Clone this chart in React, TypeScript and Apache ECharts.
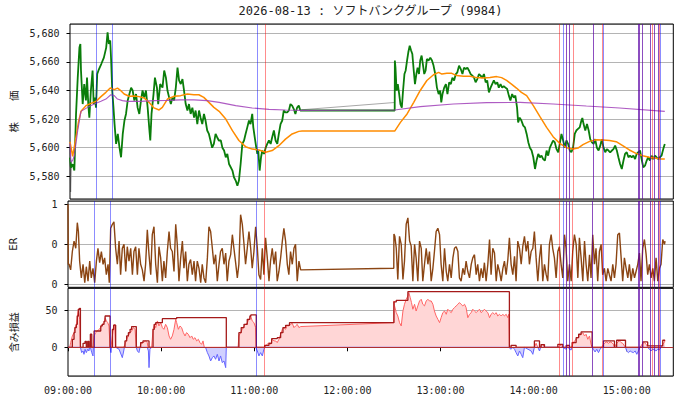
import React, { useEffect, useRef } from 'react';
import * as echarts from 'echarts';

const TITLE = '2026-08-13 : ソフトバンクグループ (9984)';
const xTickStep = 60;

// minutes since 09:00, price
const priceAM = [[0,5593],[0.6,5586],[1.7,5588.5],[2.8,5584],[3.2,5598],[3.9,5623.5],[5.0,5649],[6.1,5670],[6.7,5672.5],[7.1,5654],[8.2,5630.5],[9.2,5644.5],[10.3,5633],[11.0,5649],[11.8,5630.5],[12.5,5621],[13.5,5640],[14.6,5654],[15.3,5630.5],[16.1,5635],[16.8,5628],[17.6,5651.5],[18.4,5654],[20.2,5658.5],[21.9,5663],[23.4,5670],[24.3,5680.7],[25.1,5672.5],[26.0,5675],[26.6,5661],[27.3,5640],[28.1,5628],[28.8,5616.5],[29.8,5602.6],[30.9,5609.6],[32.0,5600],[33.0,5593.3],[34.1,5609.6],[35.2,5619],[36.2,5623.6],[37.3,5633],[38.4,5637.5],[39.5,5642],[40.5,5640],[41.6,5633],[42.7,5637.5],[43.7,5628],[44.8,5623.6],[45.9,5633],[46.9,5640],[48.0,5635],[49.1,5640],[50.2,5628],[51.2,5614],[51.9,5605],[52.7,5623.6],[54.0,5637.5],[54.9,5649],[56.2,5642],[57.0,5630.5],[58.3,5644.5],[59.8,5642],[60.9,5654],[62.0,5649],[63.0,5640],[64.1,5635],[65.2,5630.5],[66.2,5635],[67.3,5633],[68.4,5642],[69.5,5656],[70.5,5647],[71.6,5644.5],[72.7,5648],[73.7,5640],[74.8,5630.5],[75.9,5626],[76.9,5630.5],[78.0,5623.6],[79.1,5628],[80.2,5621],[81.2,5626],[82.3,5616.5],[83.4,5626],[84.4,5621],[85.5,5616.5],[86.6,5623.6],[87.6,5619],[88.7,5612],[89.8,5609.6],[90.8,5605],[91.9,5600],[93.0,5602.6],[94.1,5609.6],[95.1,5607.3],[96.2,5605],[97.5,5605],[98.5,5600],[99.6,5598],[100.7,5593.3],[101.7,5595.6],[102.8,5588.6],[103.9,5586.3],[105.0,5584],[106.0,5579.3],[107.1,5577],[108.2,5573.4],[109.2,5577],[110.3,5588.6],[111.4,5602.6],[112.5,5605],[113.5,5609.6],[114.6,5614.2],[115.7,5619],[116.7,5616.5],[117.8,5623.6],[118.5,5614.2],[119.4,5607.3],[120.4,5600],[121.1,5595.6],[121.7,5598],[122.6,5584],[123.5,5593.3],[124.3,5598],[125.4,5595.6],[126.5,5600],[127.5,5602.6],[128.6,5605],[129.7,5602.6],[130.7,5607.3],[131.8,5612],[132.9,5605],[134.0,5602.6],[135.0,5609.6],[136.1,5616.5],[137.2,5619],[138.2,5626],[139.3,5624.7],[140.4,5624.7],[141.5,5626],[142.5,5630.5],[143.6,5629.4],[144.7,5627],[145.7,5623.6],[146.8,5628],[147.9,5629.4],[148.9,5626],[149.6,5626]];
const priceLunch = [[209.9,5626]];
const pricePM = [[210,5660.9],[210.4,5656],[211.1,5640],[211.9,5644.5],[212.8,5637.5],[213.6,5630.5],[214.5,5628],[215.3,5640],[216.2,5651.5],[217.0,5654],[217.9,5661],[218.7,5666.7],[219.6,5671.3],[220.5,5668],[221.3,5665.5],[222.2,5654],[223.0,5644.5],[223.9,5651.5],[224.7,5656],[225.6,5651.5],[226.4,5661],[227.3,5664.4],[228.1,5658.5],[229.0,5651.5],[229.9,5654],[230.7,5662],[231.8,5661],[232.9,5663],[234.0,5661],[235.0,5657.4],[236.1,5651.5],[237.2,5642],[238.3,5637.5],[239.3,5640],[240.0,5631.7],[240.8,5637.5],[241.9,5642],[243.0,5644.5],[244.0,5637.5],[245.1,5645.7],[246.2,5644.5],[247.2,5649],[248.3,5647],[249.4,5651.5],[250.4,5652.7],[251.5,5657.4],[252.6,5655],[253.7,5651.5],[254.7,5656],[255.8,5655],[256.9,5656],[257.9,5654],[259.0,5651.5],[260.1,5650.4],[261.2,5649],[262.2,5645.7],[263.3,5648],[264.4,5651.5],[265.4,5650.4],[266.5,5649],[267.6,5651.5],[268.7,5645.7],[269.7,5647],[270.8,5638.7],[271.9,5642],[272.9,5644.5],[274.0,5647],[275.1,5644.5],[276.2,5645.7],[277.2,5642],[278.3,5644.5],[279.4,5642],[280.4,5643],[281.5,5642],[282.6,5641],[283.7,5636.4],[284.7,5633],[285.8,5637.5],[286.9,5635],[287.9,5636.4],[289.0,5628],[289.7,5617.7],[290.7,5621],[291.8,5619],[293.0,5615.4],[294.1,5614.2],[295.2,5609.6],[296.3,5603.7],[297.3,5600],[298.4,5598],[299.5,5593.3],[300.6,5585.1],[301.6,5591],[302.7,5595.6],[303.8,5593.3],[304.8,5594.4],[305.9,5592],[307.0,5591],[308.1,5598],[309.1,5594.4],[310.2,5600],[311.3,5602.6],[312.3,5605],[313.4,5603.7],[314.5,5599],[315.6,5596.8],[316.6,5602.6],[317.7,5609.6],[318.8,5605],[319.8,5600],[320.9,5605],[322.0,5602.6],[323.1,5598],[324.1,5596.8],[325.2,5600],[326.3,5609.6],[327.3,5612],[328.4,5613.1],[329.5,5614.2],[330.6,5619],[331.2,5620.8],[332.0,5616.5],[333.1,5612],[334.2,5616.5],[335.3,5612],[336.3,5606],[337.4,5603.7],[338.5,5602.6],[339.5,5606],[340.6,5600],[341.7,5598],[342.8,5601.4],[343.8,5606],[344.9,5600],[346.0,5596.8],[347.0,5599],[348.1,5598],[349.2,5596.8],[350.3,5598],[351.3,5599],[352.4,5601.4],[353.5,5598],[354.5,5593.3],[355.6,5588.6],[356.7,5585.1],[357.8,5591],[358.8,5595.6],[359.9,5596.8],[361.0,5593.3],[362.0,5594.4],[363.1,5593.3],[364.2,5594.4],[365.3,5592],[366.3,5595.6],[367.4,5596.8],[368.5,5598],[369.5,5592],[370.6,5586.3],[371.7,5587.4],[372.8,5591],[373.8,5593.3],[374.9,5591],[376.0,5594.4],[377.0,5592],[378.1,5594.4],[379.2,5593.3],[380.3,5592],[381.3,5593.3],[382.4,5594.4],[383.5,5599],[384.5,5602.6]];
const rawOpen = [[0,5600],[0.4,5569],[0.9,5590]];
const rawLunch = [[149.6,5626.5],[209.9,5631.6]];
const maLine = [[0,5604],[1.7,5594],[3.5,5605],[5.5,5618],[7.1,5625.4],[10.3,5629.4],[13.5,5631],[16.8,5632.4],[20,5635.7],[23.2,5638.7],[26,5641.7],[28.6,5640.6],[30.7,5641.7],[32.4,5640.3],[35,5637.5],[38.2,5636],[41.5,5636.2],[44.7,5635.7],[47.9,5634.8],[51.1,5631.7],[54.3,5627.8],[57.6,5626.4],[59.7,5628.2],[63,5634],[67.2,5635.9],[71.5,5636.4],[75.8,5637.5],[80.1,5637],[83.3,5637],[86.5,5635.2],[89.8,5631.7],[93,5628.2],[96.4,5625.4],[100.7,5620],[105,5611.9],[109.2,5605],[113.5,5600.7],[117.8,5599],[122.1,5598.4],[126.5,5596.8],[130.7,5598],[135,5601.4],[139.3,5606],[143.6,5609.6],[147.9,5611.4],[150,5611.6],[209.9,5611.6],[213.6,5617.7],[217.9,5623.6],[222.2,5631.7],[226.4,5640],[230.7,5647],[235,5651],[238.3,5652.7],[240.4,5651.5],[243.6,5652],[246.8,5652],[250,5650.4],[254.3,5649.9],[258.6,5649.9],[262.9,5649],[267.2,5648.7],[271.5,5649],[275.8,5649.7],[279,5649],[282.2,5647],[285.4,5644.5],[288.6,5641.7],[291.8,5638.7],[295.2,5636.4],[299.5,5629.4],[303.8,5621.7],[308.1,5614.2],[312.3,5607.7],[316.6,5603],[320.9,5600],[325.2,5599],[328.4,5599.7],[331.6,5602.1],[335.9,5604.4],[340.2,5605.6],[344.5,5605.4],[348.8,5605],[353.1,5604.2],[357.3,5601.4],[361.6,5598.4],[365.9,5596],[370.2,5594.4],[374.5,5593.3],[378.8,5592.6],[382,5592],[384.5,5592]];
const vwapLine = [[0,5603],[0.6,5590],[1.7,5591],[2.8,5594.4],[5,5612],[7.1,5625.4],[11.4,5628.2],[15.7,5630.5],[20,5632.4],[23.2,5634],[26.4,5637],[28.6,5636.4],[30.7,5634],[33.9,5632.9],[37.1,5632.4],[45.7,5632.4],[54.3,5632.9],[63,5633.1],[71.5,5633.4],[80.1,5633.4],[88.7,5632.9],[96.4,5631.7],[107.1,5629.4],[117.8,5627.8],[128.6,5626.8],[139.3,5626.4],[150,5626.1],[209.9,5626.3],[226.4,5628.7],[247.9,5630.5],[269.3,5631.5],[290.9,5631.7],[312.3,5630.5],[333.8,5629.1],[355.2,5627.8],[384.5,5625.4]];

const erAM = [[0,1.0],[0.2,0.25],[0.7,0.25],[1.7,0.18],[2.8,0.41],[3.9,0.54],[5.0,0.45],[6.0,0.77],[6.7,0.66],[7.5,0.29],[8.6,0.08],[9.7,0.25],[10.8,0.02],[11.8,0.22],[12.9,0.04],[14.0,0.29],[15.0,0.08],[16.1,0.2],[17.2,0.02],[18.3,0.29],[19.3,0.45],[20.4,0.27],[21.5,0.41],[22.6,0.25],[23.6,0.33],[24.7,0.12],[25.8,0.25],[26.6,0.02],[27.5,0.7],[28.6,0.75],[29.6,0.78],[30.7,0.45],[31.8,0.25],[32.9,0.54],[33.9,0.12],[35.0,0.45],[36.1,0.5],[37.2,0.16],[38.2,0.47],[39.3,0.29],[40.4,0.45],[41.5,0.12],[42.5,0.41],[43.6,0.47],[44.7,0.12],[45.7,0.45],[46.8,0.25],[47.9,0.18],[49.0,0.04],[50.0,0.25],[51.1,0.68],[52.2,0.37],[53.3,0.12],[54.3,0.62],[55.4,0.72],[56.5,0.25],[57.6,0.02],[58.6,0.47],[59.7,0.33],[60.8,0.04],[61.8,0.29],[62.9,0.08],[64.0,0.41],[65.1,0.66],[66.1,0.45],[67.2,0.41],[68.3,0.16],[69.4,0.75],[70.4,0.5],[71.5,0.04],[72.6,0.33],[73.7,0.54],[74.7,0.2],[75.8,0.41],[76.9,0.04],[77.9,0.25],[79.0,0.31],[80.1,0.12],[81.2,0.29],[82.2,0.04],[83.3,0.29],[84.4,0.2],[85.5,0.02],[86.5,0.25],[87.6,0.08],[88.7,0.02],[89.8,0.33],[90.8,0.72],[91.9,0.66],[93.0,0.45],[94.0,0.25],[95.1,0.37],[96.2,0.04],[97.3,0.25],[98.3,0.41],[99.4,0.45],[100.5,0.25],[101.6,0.39],[102.6,0.04],[103.7,0.29],[104.8,0.37],[105.9,0.62],[106.9,0.45],[108.0,0.27],[109.1,0.08],[110.1,0.25],[111.2,0.87],[112.3,0.75],[113.4,0.5],[114.4,0.25],[115.5,0.45],[116.6,0.66],[117.7,0.45],[118.7,0.2],[119.8,0.41],[120.9,0.72],[122.0,0.45],[123.0,0.12],[124.1,0.06],[125.2,0.45],[126.2,0.12],[127.3,0.58],[128.4,0.33],[129.5,0.04],[130.5,0.29],[131.6,0.45],[132.7,0.25],[133.8,0.41],[134.8,0.04],[135.9,0.16],[137.0,0.33],[138.1,0.54],[139.1,0.7],[140.2,0.54],[141.3,0.25],[142.3,0.12],[143.4,0.41],[144.5,0.25],[145.6,0.45],[146.6,0.5],[147.7,0.04],[148.8,0.29],[149.9,0.18]];
const erPM = [[209.9,0.2],[210,0.63],[210.6,0.6],[211.5,0.45],[212.5,0.06],[213.6,0.6],[214.7,0.5],[215.8,0.06],[216.8,0.29],[217.9,0.75],[219,0.83],[220.1,0.54],[221.1,0.48],[222.2,0.04],[223.3,0.5],[224.3,0.33],[225.4,0.04],[226.5,0.54],[227.6,0.45],[228.6,0.04],[229.7,0.25],[230.8,0.45],[231.9,0.25],[232.9,0.41],[234,0.04],[235.1,0.2],[236.1,0.41],[237.2,0.66],[238.3,0.7],[239.4,0.62],[240.4,0.25],[241.5,0.04],[242.6,0.45],[243.7,0.16],[244.7,0.04],[245.8,0.25],[246.9,0.08],[248,0.33],[249,0.45],[250.1,0.47],[251.2,0.41],[252.2,0.08],[253.3,0.04],[254.4,0.2],[255.5,0.12],[256.5,0.29],[257.6,0.16],[258.7,0.08],[259.8,0.25],[260.8,0.33],[261.9,0.37],[263,0.12],[264,0.25],[265.1,0.04],[266.2,0.2],[267.3,0.08],[268.3,0.27],[269.4,0.04],[270.5,0.25],[271.6,0.56],[272.6,0.12],[273.7,0.45],[274.8,0.39],[275.9,0.04],[276.9,0.25],[278,0.16],[279.1,0.04],[280.2,0.2],[281.2,0.29],[282.3,0.12],[283.4,0.31],[284.4,0.58],[285.5,0.25],[286.6,0.12],[287.7,0.35],[288.7,0.04],[289.8,0.54],[290.9,0.45],[292,0.25],[293,0.47],[294.1,0.6],[295.2,0.41],[296.3,0.54],[297.3,0.25],[298.4,0.41],[299.5,0.45],[300.5,0.66],[301.6,0.33],[302.7,0.04],[303.8,0.33],[304.8,0.5],[305.9,0.04],[307,0.25],[308.1,0.12],[309.1,0.04],[310.2,0.5],[311.3,0.62],[312.3,0.45],[313.4,0.33],[314.5,0.08],[315.6,0.41],[316.6,0.47],[317.7,0.25],[318.8,0.08],[319.9,0.62],[320.9,0.45],[322,0.04],[323.1,0.25],[324.2,0.04],[325.2,0.41],[326.3,0.62],[327.4,0.5],[328.5,0.08],[329.5,0.58],[330.6,0.33],[331.7,0.04],[332.8,0.54],[333.8,0.25],[334.9,0.04],[336,0.37],[337,0.08],[338.1,0.62],[339.2,0.25],[340.2,0.45],[341.3,0.04],[342.4,0.41],[343.5,0.5],[344.5,0.12],[345.6,0.2],[346.7,0.04],[347.8,0.2],[348.8,0.12],[349.9,0.04],[351,0.25],[352.1,0.08],[353.1,0.25],[354.2,0.62],[355.3,0.64],[356.4,0.33],[357.4,0.04],[358.5,0.33],[359.6,0.2],[360.7,0.08],[361.7,0.25],[362.8,0.04],[363.9,0.2],[365,0.08],[366,0.16],[367.1,0.25],[368.2,0.39],[369.2,0.04],[370.3,0.45],[371.4,0.56],[372.5,0.37],[373.5,0.12],[374.6,0.25],[375.7,0.08],[376.8,0.2],[377.8,0.04],[378.9,0.33],[380,0.04],[381.1,0.2],[382.1,0.25],[383.2,0.56],[384.3,0.5],[384.7,0.54]];

const pnlAM = [[0,0],[1.1,0],[1.7,6.3],[2.8,15.3],[3.9,19.8],[4.5,26.6],[5.4,31],[6.0,42.3],[6.7,51.4],[7.5,37.8],[8.0,0],[8.8,-7.2],[9.7,-5],[10.3,-9.5],[11.0,-2.7],[11.8,-7.2],[12.7,-2.7],[13.5,-5],[14.4,6.3],[15.3,-7.2],[16.1,-11.7],[16.8,15.3],[17.8,19.8],[18.9,22],[20.0,24.3],[21.1,26.6],[22.1,31],[23.2,33.3],[23.9,40],[24.7,35.6],[25.6,33.3],[26.4,28.8],[27.1,0],[27.7,-7.2],[28.6,15.3],[29.4,28.8],[30.1,31],[30.7,0],[32.9,-2.7],[35.0,-14],[35.9,-5],[36.7,4],[37.8,10.8],[38.9,15.3],[40.0,19.8],[41.0,22],[42.1,26.6],[43.2,24.3],[44.0,0],[44.7,-5],[45.7,-7.2],[46.8,4],[48.3,6.3],[50.0,8.6],[51.1,6.3],[51.8,-5],[52.2,-27.5],[52.8,-2.7],[53.9,0],[54.8,24.3],[55.6,31],[56.5,26.6],[57.6,35.6],[58.6,28.8],[59.7,33.3],[60.8,26.6],[61.8,24.3],[62.9,31],[64.0,26.6],[65.1,15.3],[66.1,10.8],[67.2,15.3],[68.3,24.3],[69.4,37.8],[70.0,33.3],[71.1,24.3],[72.2,28.8],[73.2,26.6],[74.3,19.8],[75.4,15.3],[76.4,19.8],[77.5,17.6],[78.6,13],[79.7,15.3],[80.7,10.8],[81.8,13],[82.9,8.6],[84.0,10.8],[85.0,6.3],[86.1,4],[87.0,8.6],[87.8,0],[88.7,-0.5],[89.8,-7.2],[90.8,-11.7],[91.9,-18.5],[93.0,-14],[94.0,-11.7],[95.1,-16.2],[96.2,-9.5],[97.3,-18.5],[98.3,-11.7],[99.4,-20.7],[100.5,-18.5],[101.6,-27.5],[102.0,0],[109.6,0],[110.1,15.3],[111.2,19.8],[112.3,24.3],[113.4,28.8],[114.4,31],[115.5,33.3],[116.6,37.8],[117.7,42.3],[118.7,35.6],[119.8,33.3],[120.9,26.6],[121.3,0],[122.0,-5],[123.0,-11.7],[124.1,-7.2],[125.2,-11.7],[126.2,-2.7],[127.3,1.8],[128.4,4],[129.5,6.3],[130.5,4],[131.6,10.8],[132.7,8.6],[133.8,8.6],[134.8,6.3],[135.9,10.8],[137.0,17.6],[138.1,24.3],[139.1,26.6],[140.2,24.3],[141.3,29.7],[142.3,28.8],[143.4,31],[144.5,32.4],[145.6,26.6],[146.6,28.8],[147.7,31],[148.8,26.6],[149.9,28],[209.9,33.3]];
const pnlPM = [[210,62.6],[210.4,55.9],[211.5,46.8],[212.5,42.3],[213.6,33.3],[214.7,28.8],[215.8,49],[216.8,58.1],[217.9,64.9],[219,69.4],[219.6,73.9],[220.5,67.1],[221.3,60.4],[222.2,51.4],[223.3,58.1],[224.3,49],[225.4,55.9],[226.5,62.6],[227.6,64.9],[228.6,58.1],[229.7,55.9],[230.8,62.6],[231.9,64.9],[232.9,62.6],[234,62.6],[235.1,58.1],[236.1,49],[237.2,42.3],[238.3,37.8],[239.4,33.3],[240.4,40],[241.5,46.8],[242.6,49],[243.7,44.6],[244.7,51.4],[245.8,49],[246.9,46.8],[248,51.4],[249,53.6],[250.1,55.9],[251.2,58.1],[252.2,60.4],[253.3,58.1],[254.4,55.9],[255.5,58.1],[256.5,53.6],[257.6,40],[258.7,44.6],[259.8,46.8],[260.8,51.4],[261.9,49],[263,46.8],[264,49],[265.1,51.4],[266.2,46.8],[267.3,49],[268.3,51.4],[269.4,49],[270.5,46.8],[271.6,40],[272.6,44.6],[273.7,46.8],[274.8,44.6],[275.9,46.8],[276.9,42.3],[278,44.6],[279.1,42.3],[280.2,44.6],[281.2,42.3],[282.3,44.6],[283.4,40],[284,44.6],[284.4,0],[285.5,-2.7],[286.6,0],[287.7,-2.7],[288.7,-7.2],[289.8,-11.7],[290.9,-5],[292,-9.5],[293,-14],[294.1,0],[298.4,-5],[299.5,-9.5],[300.5,0],[301.6,5.4],[302.7,0],[303.8,-5],[304.8,1.8],[305.9,4],[307,0],[315.6,0],[316.7,1.8],[317.7,2.7],[318.8,0],[321,-2.7],[322,1.8],[323.1,-2.7],[324.2,-3.6],[325.2,4],[326.3,8.6],[327.4,10.8],[328.5,13],[329.5,15.3],[330.6,17.6],[331.7,19.8],[332.8,15.3],[333.8,17.6],[334.9,10.8],[336,15.3],[337,4],[337.7,0],[338.5,-2.7],[339.6,-6.3],[340.7,-2.7],[341.8,-7.2],[342.8,-2.7],[343.9,0],[345,4],[346.1,6.3],[347.1,7.2],[348.2,5.4],[349.3,7.2],[350.4,6.3],[351.4,4],[352.1,0],[353.1,4],[354.2,7.2],[355.3,8.6],[356.4,6.3],[357.4,5.4],[358.5,1.8],[359.2,0],[360,-5],[361.1,-7.2],[362.2,-5],[363.2,-6.3],[364.3,-7.2],[365.4,-5],[366.5,-9.5],[367.5,-5],[368.6,0],[369.2,1.8],[370.3,5.4],[371.4,6.3],[372.5,4],[373.5,0],[374.6,-2.7],[375.7,-5],[376.7,-2.7],[377.8,-3.6],[378.9,-5],[380,-2.7],[381,-3.6],[382.1,0],[383.2,4],[384.3,7.2],[384.7,9.5]];
const pnlPeak = [[0,0],[2.8,10.8],[3.9,19.8],[4.5,26.6],[5.4,31],[6.0,42.3],[6.7,51.4],[7.5,52.7],[8.0,0],[9.7,5.4],[11.0,8],[11.8,0],[12.7,8],[13.5,0],[14.4,17.6],[15.3,0],[16.8,22],[21.1,28.8],[22.1,31],[23.2,35],[23.9,42.3],[27.1,0],[28.6,24],[29.4,30],[30.7,0],[36.7,8.6],[37.8,15.3],[38.9,19.8],[40.0,24.3],[41.0,28],[44.0,0],[46.8,6.3],[48.3,8.6],[52.2,0],[54.8,24.3],[55.6,31],[56.5,33.3],[60.8,38.7],[70.0,40.1],[102.0,0],[110.1,19.8],[111.6,26.6],[113.4,31],[115.5,37.8],[117.2,42.3],[117.8,43.7],[121.3,0],[126.7,2.7],[129.5,5.4],[131.2,11.7],[134.8,13],[137.0,19.8],[138.5,26.6],[140.2,29.7],[142.7,33.3],[210,61.3],[211.5,63.5],[219.0,75.2],[284.4,0],[285.5,2.7],[288.7,0],[300.5,8.6],[303.8,0],[304.8,3.6],[307,0],[315.6,4],[318.8,0],[321,2.7],[323.1,0],[324.8,6.3],[327.4,13],[329,17.6],[330.6,20.7],[337.7,0],[345,8.6],[352.1,0],[353.5,9.5],[359.2,0],[370.3,7.2],[373.5,1.8],[383.2,9.5],[384.7,9.5]];

const buyTimes = [16.8, 27.0, 121.1, 318.8, 320.9, 322.7, 338.1, 344.7, 367.1, 367.8, 369.7, 375.0, 377.8, 380.1, 381.7];
const sellTimes = [126.2, 316.2, 320.9, 322.7, 325.2, 338.1, 344.2, 367.1, 367.8, 369.7, 375.0, 376.2, 377.8, 380.1, 381.0];

const MONO = "'DejaVu Sans Mono', 'Noto Sans CJK JP', monospace";
const CJK = "'Noto Sans CJK JP', 'DejaVu Sans', sans-serif";
const pad = (n: number) => (n < 10 ? '0' + n : '' + n);
const fmtTime = (v: number) => `${pad(9 + Math.floor(v / 60))}:${pad(Math.round(v % 60))}:00`;
const fmtComma = (v: number) => String(Math.round(v)).replace(/\B(?=(\d{3})+(?!\d))/g, ',');

// split a series at zero so the positive and negative parts get their own colour
function splitSign(src: number[][], positive: boolean) {
  const out: number[][] = [];
  const clip = (v: number) => (positive ? Math.max(v, 0) : Math.min(v, 0));
  for (let i = 0; i < src.length; i++) {
    const [x, y] = src[i];
    if (i > 0) {
      const [px, py] = src[i - 1];
      if ((py < 0 && y > 0) || (py > 0 && y < 0)) {
        const xc = px + ((0 - py) * (x - px)) / (y - py);
        out.push([xc, 0]);
      }
    }
    out.push([x, clip(y)]);
  }
  return out;
}

const GRID_L = 68;
const GRID_R = 6.7;

function buildOption() {
  // red first, blue over it: where both fall together the line reads blue-violet
  const vLines = [
    ...sellTimes.map((t) => ({ xAxis: t, lineStyle: { color: 'rgba(255,0,0,0.45)', width: 1, type: 'solid' } })),
    ...buyTimes.map((t) => ({ xAxis: t, lineStyle: { color: 'rgba(0,0,255,0.45)', width: 1, type: 'solid' } })),
  ];
  const mk = (extra: any[] = []) => ({
    silent: true,
    symbol: ['none', 'none'],
    label: { show: false },
    animation: false,
    data: [...extra, ...vLines],
  });
  const labelStyle = {
    fontSize: 10, fontFamily: MONO, color: '#222', margin: 10.5,
    showMinLabel: false, showMaxLabel: false,
  };
  const nameStyle = { fontSize: 10, fontFamily: CJK, color: '#222' };
  const tick = { show: true, length: 3.5, lineStyle: { color: '#000' } };
  const split = { show: true, lineStyle: { color: '#b4b4b4', width: 1 } };
  const line = (extra: any) => ({ type: 'line', showSymbol: false, symbol: 'none', animation: false, silent: true, ...extra });
  const pnlAll = [...pnlAM, ...pnlPM];

  return {
    animation: false,
    backgroundColor: '#fff',
    title: {
      text: TITLE, left: 370.5, top: 5, textAlign: 'center', padding: 0,
      textStyle: { fontSize: 12, fontWeight: 'normal', fontFamily: MONO, color: '#222' },
    },
    grid: [
      { left: GRID_L, right: GRID_R, top: 24, height: 175, show: true, borderColor: '#000', borderWidth: 1, z: 3 },
      { left: GRID_L, right: GRID_R, top: 201, height: 86.3, show: true, borderColor: '#000', borderWidth: 1, z: 3 },
      { left: GRID_L, right: GRID_R, top: 288.3, height: 87.7, show: true, borderColor: '#000', borderWidth: 1, z: 3 },
    ],
    xAxis: [
      { gridIndex: 0, type: 'value', min: 0, max: 390, interval: xTickStep, show: false },
      { gridIndex: 1, type: 'value', min: 0, max: 390, interval: xTickStep, show: false },
      {
        gridIndex: 2, type: 'value', min: 0, max: 390, interval: xTickStep,
        axisLine: { show: false },
        axisTick: { show: true, length: 4, lineStyle: { color: '#000' } },
        axisLabel: { ...labelStyle, showMinLabel: true, margin: 9, formatter: fmtTime },
        splitLine: { show: false },
      },
    ],
    yAxis: [
      {
        gridIndex: 0, type: 'value', min: 5564.1, max: 5686.5, splitNumber: 6,
        name: '株\u3000\u3000価', nameLocation: 'middle', nameRotate: 90, nameGap: 50, nameTextStyle: { ...nameStyle, fontSize: 10.5 },
        axisLine: { show: false }, axisTick: tick,
        axisLabel: { ...labelStyle, formatter: fmtComma },
        splitLine: split,
      },
      {
        gridIndex: 1, type: 'value', min: -0.0375, max: 1.041, splitNumber: 2,
        name: 'ER', nameLocation: 'middle', nameRotate: 90, nameGap: 50, nameTextStyle: { ...nameStyle, fontFamily: "'DejaVu Sans', sans-serif" },
        axisLine: { show: false }, axisTick: tick,
        axisLabel: { ...labelStyle, formatter: (v: number) => String(Math.trunc(v)) },
        splitLine: split,
      },
      {
        gridIndex: 2, type: 'value', min: -38.8, max: 79.7, splitNumber: 2,
        name: '含み損益', nameLocation: 'middle', nameRotate: 90, nameGap: 50, nameTextStyle: nameStyle,
        axisLine: { show: false }, axisTick: tick,
        axisLabel: { ...labelStyle, formatter: (v: number) => String(Math.round(v)) },
        splitLine: split,
      },
    ],
    series: [
      line({ xAxisIndex: 0, yAxisIndex: 0, data: rawOpen, lineStyle: { color: '#909090', width: 1 }, z: 2 }),
      line({ xAxisIndex: 0, yAxisIndex: 0, data: rawLunch, lineStyle: { color: '#a8a8a8', width: 1 }, z: 2 }),
      line({
        xAxisIndex: 0, yAxisIndex: 0, data: [...priceAM, ...priceLunch, ...pricePM],
        lineStyle: { color: '#0a7d0a', width: 1.8 }, z: 3,
      }),
      line({ xAxisIndex: 0, yAxisIndex: 0, data: maLine, lineStyle: { color: '#ff8c00', width: 1.5 }, z: 4 }),
      line({ xAxisIndex: 0, yAxisIndex: 0, data: vwapLine, lineStyle: { color: '#a040b8', width: 1.1, opacity: 0.85 }, z: 4, markLine: mk() }),
      line({
        xAxisIndex: 1, yAxisIndex: 1, data: [...erAM, ...erPM],
        lineStyle: { color: '#8b4513', width: 1.4 }, z: 3, markLine: mk(),
      }),
      line({
        xAxisIndex: 2, yAxisIndex: 2, data: splitSign(pnlAll, true),
        lineStyle: { width: 1, color: '#ff6464' }, areaStyle: { color: '#ffd6d6', opacity: 1 }, z: 2,
      }),
      line({
        xAxisIndex: 2, yAxisIndex: 2, data: splitSign(pnlAll, false),
        lineStyle: { width: 1, color: '#6464ff' }, areaStyle: { color: '#d0d0ff', opacity: 1 }, z: 2,
      }),
      line({
        xAxisIndex: 2, yAxisIndex: 2, data: pnlPeak, step: 'end',
        lineStyle: { color: '#a51a1a', width: 1.3 }, z: 3,
        markLine: mk([{ yAxis: 0, lineStyle: { color: '#b03030', width: 1, type: 'solid' } }]),
      }),
    ],
  };
}

export default function App() {
  const ref = useRef<HTMLDivElement>(null);
  useEffect(() => {
    if (!ref.current) return;
    const chart = echarts.init(ref.current, undefined, { renderer: 'svg' });
    chart.setOption(buildOption() as any);
    return () => chart.dispose();
  }, []);
  return (
    <div
      ref={ref}
      style={{ position: 'fixed', left: 0, top: 0, width: 680, height: 400, background: '#fff' }}
    />
  );
}
